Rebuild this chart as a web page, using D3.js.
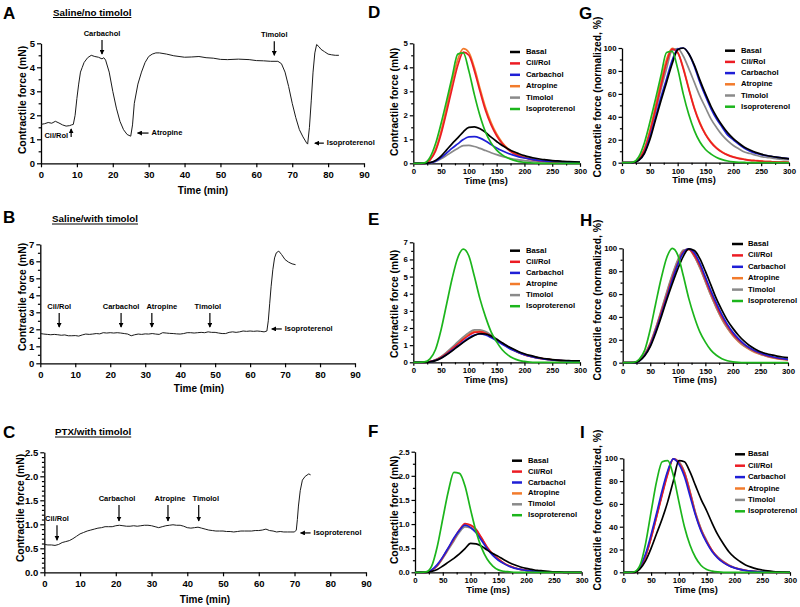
<!DOCTYPE html>
<html><head><meta charset="utf-8">
<script src="https://cdn.jsdelivr.net/npm/d3@7/dist/d3.min.js"></script>
<style>
body{margin:0;background:#fff}
svg{display:block}
text{font-family:"Liberation Sans",Arial,sans-serif;font-weight:bold;fill:#000}
</style>
</head><body><svg id="c" width="800" height="607"></svg>
<script>
// ---------------- DATA ----------------
const seriesNames = ["Basal","Cil/Rol","Carbachol","Atropine","Timolol","Isoproterenol"];
const twitchTime = [0,10,20,30,40,50,60,70,80,90,100,110,120,130,140,150,160,170,180,190,200,210,220,230,240,250,260,270,280,290,300];
const minTicks = [0,10,20,30,40,50,60,70,80,90];
const msTicks = [0,50,100,150,200,250,300];

// Panel D (mN)
const D_basal = [0,0,0,0.03,0.12,0.30,0.56,0.82,1.06,1.31,1.50,1.52,1.44,1.29,1.09,0.91,0.74,0.61,0.49,0.40,0.32,0.26,0.21,0.17,0.14,0.11,0.10,0.08,0.07,0.06,0.05];
const D_cilrol = [0,0,0,0.14,0.51,1.22,2.15,3.14,4.07,4.63,4.5,3.85,3.0,2.2,1.6,1.15,0.82,0.58,0.42,0.31,0.23,0.17,0.13,0.10,0.08,0.06,0.05,0.04,0.03,0.02,0.02];
const D_carbachol = [0,0,0,0.02,0.09,0.24,0.43,0.63,0.81,0.99,1.10,1.11,1.05,0.93,0.78,0.64,0.52,0.42,0.34,0.27,0.22,0.18,0.14,0.11,0.09,0.08,0.07,0.06,0.05,0.04,0.04];
const D_atropine = [0,0,0,0.14,0.58,1.34,2.35,3.41,4.32,4.78,4.62,3.98,3.12,2.32,1.7,1.22,0.87,0.62,0.45,0.33,0.25,0.19,0.14,0.11,0.09,0.07,0.05,0.04,0.03,0.03,0.02];
const D_timolol = [0,0,0,0.02,0.08,0.19,0.33,0.48,0.62,0.74,0.75,0.70,0.62,0.53,0.44,0.36,0.29,0.23,0.18,0.145,0.115,0.09,0.07,0.06,0.05,0.04,0.035,0.03,0.025,0.02,0.02];
const D_iso = [0,0,0.02,0.24,0.81,1.66,2.61,3.61,4.55,4.6,3.85,2.85,1.98,1.3,0.85,0.55,0.35,0.22,0.13,0.07,0.04,0.02,0.01,0,0,0,0,0,0,0,0];

// Panel E (mN)
const E_basal = [0,0,0,0.03,0.10,0.24,0.44,0.67,0.92,1.16,1.38,1.56,1.67,1.65,1.53,1.34,1.14,0.94,0.77,0.62,0.50,0.40,0.32,0.25,0.20,0.16,0.13,0.11,0.10,0.08,0.08];
const E_cilrol = [0,0,0,0.04,0.13,0.29,0.52,0.79,1.06,1.33,1.57,1.75,1.78,1.69,1.53,1.31,1.10,0.90,0.72,0.58,0.45,0.36,0.29,0.23,0.18,0.14,0.11,0.09,0.07,0.06,0.05];
const E_carbachol = [0,0,0,0.02,0.11,0.25,0.46,0.70,0.95,1.20,1.43,1.59,1.65,1.59,1.44,1.25,1.05,0.86,0.70,0.56,0.44,0.35,0.27,0.22,0.17,0.14,0.11,0.09,0.07,0.06,0.05];
const E_atropine = [0,0,0,0.04,0.14,0.31,0.56,0.83,1.13,1.41,1.65,1.81,1.83,1.72,1.54,1.31,1.09,0.89,0.70,0.56,0.43,0.34,0.27,0.21,0.17,0.13,0.11,0.08,0.07,0.05,0.04];
const E_timolol = [0,0,0,0.04,0.14,0.33,0.59,0.88,1.19,1.48,1.73,1.89,1.90,1.79,1.59,1.36,1.13,0.92,0.74,0.59,0.46,0.36,0.29,0.23,0.18,0.14,0.12,0.09,0.07,0.06,0.05];
const E_iso = [0,0,0.02,0.2,0.75,1.9,3.4,4.9,6.1,6.6,6.2,5.0,3.7,2.65,1.78,1.19,0.73,0.43,0.23,0.11,0.05,0.01,0,0,0,0,0,0,0,0,0];

// Panel F (mN)
const F_basal = [0,0,0,0.02,0.06,0.13,0.21,0.29,0.38,0.49,0.60,0.59,0.54,0.46,0.39,0.33,0.26,0.20,0.15,0.11,0.08,0.06,0.04,0.03,0.02,0.01,0.01,0,0,0,0];
const F_cilrol = [0,0,0,0.04,0.14,0.31,0.50,0.69,0.88,1.01,0.98,0.89,0.71,0.52,0.38,0.28,0.19,0.13,0.09,0.06,0.04,0.03,0.02,0.01,0.01,0,0,0,0,0,0];
const F_carbachol = [0,0,0,0.05,0.16,0.32,0.51,0.71,0.87,0.98,0.93,0.82,0.66,0.49,0.35,0.25,0.18,0.12,0.08,0.06,0.04,0.03,0.02,0.01,0.01,0,0,0,0,0,0];
const F_atropine = [0,0,0,0.04,0.14,0.30,0.49,0.68,0.87,0.99,0.97,0.87,0.70,0.51,0.37,0.27,0.19,0.13,0.09,0.06,0.04,0.03,0.02,0.01,0.01,0,0,0,0,0,0];
const F_timolol = [0,0,0,0.04,0.13,0.29,0.47,0.65,0.83,0.94,0.92,0.83,0.67,0.49,0.36,0.26,0.18,0.13,0.09,0.06,0.04,0.03,0.02,0.01,0.01,0,0,0,0,0,0];
const F_iso = [0,0,0.01,0.13,0.53,1.11,1.68,2.07,2.05,1.79,1.30,0.84,0.50,0.27,0.13,0.05,0.02,0.01,0,0,0,0,0,0,0,0,0,0,0,0,0];

// Panel G (normalized %)
const G_basal = [0,0,0,2,8,20,37,54,70,86,98.5,100,95,85,72,60,49,40,32.5,26,21,17,13.5,11,9,7.5,6.3,5.4,4.6,4,3.4];
const G_cilrol = [0,0,0,3,11,26,46,67,87,99,96,82,64,47,34,24.5,17.5,12.4,9,6.6,4.9,3.6,2.8,2.1,1.7,1.3,1,0.8,0.6,0.5,0.4];
const G_carbachol = [0,0,0,2,8,22,39,57,73,89,99,100,95,84,70,58,47,38,31,24,20,16,12.5,10,8.3,7,6.2,5.4,4.6,4,3.5];
const G_atropine = [0,0,0,3,12,28,49,71,90,99.6,96,83,65,48,35,25,18,13,9.4,6.9,5.2,4,2.9,2.3,1.9,1.5,1,0.8,0.6,0.6,0.4];
const G_timolol = [0,0,0,2.6,10.6,25,44,64,82,98,99.5,93,82,70,58,48,38,30.5,24,19,15,12,9.3,8,6.6,5.3,4.6,4,3.3,2.6,2.6];
const G_iso = [0,0,0.5,5,17,35,55,76,96,97,82,60,42,28,18,11.5,7.5,4.6,2.7,1.5,0.8,0.4,0.2,0,0,0,0,0,0,0,0];

// Panel H (normalized %)
const H_basal = [0,0,0,1.5,6,14,26,40,55,69,82,93,99.5,98,91,80,68,56,46,37,30,24,19,15,12,9.5,8,6.8,5.8,5,4.5];
const H_cilrol = [0,0,0,2,7,16,29,44,59,74,87,97,99,94,85,73,61,50,40,32,25,20,16,12.5,10,8,6.3,5,4,3.3,2.7];
const H_carbachol = [0,0,0,1.5,6.5,15,28,42,57,72,86,96,99.5,96,87,75,63,52,42,33.5,26.5,21,16.5,13,10.5,8.5,6.8,5.4,4.3,3.5,2.9];
const H_atropine = [0,0,0,2,7.5,17,30,45,61,76,89,98,99,93,83,71,59,48,38,30,23.5,18.5,14.5,11.5,9,7.2,5.7,4.5,3.6,2.9,2.4];
const H_timolol = [0,0,0,2,7.5,17,30.5,46,62,77,90,98.5,99,93,83,71,59,48,38.5,30.5,24,19,15,12,9.5,7.5,6,4.8,3.8,3.1,2.5];
const H_iso = [0,0,0.3,3,11,29,52,74,92,100,94,76,56,40,27,18,11,6.5,3.5,1.7,0.7,0.2,0,0,0,0,0,0,0,0,0];

// Panel I (normalized %)
const I_basal = [0,0,0,3,10,21,34,47,62,80,98,97,88,76,64,54,43,33,25,18,13,9.5,6.5,4.5,3,2,1.2,0.7,0.4,0.2,0];
const I_cilrol = [0,0,0,4,14,30,49,68,86,99.5,96,87,70,51,37,27,19,13,9,6,4,2.6,1.6,1,0.6,0.3,0.1,0,0,0,0];
const I_carbachol = [0,0,0,5,16,33,52,72,89,99.5,95,84,67,50,36,26,18,12.5,8.5,5.8,3.9,2.6,1.6,1,0.6,0.3,0.1,0,0,0,0];
const I_atropine = [0,0,0,4,14,30,49,69,87,99.5,97,88,71,52,38,27,19,13,9,6,4,2.7,1.7,1,0.6,0.3,0.1,0,0,0,0];
const I_timolol = [0,0,0,4,14,31,50,69,88,99.5,97,88,71,52,38,28,19,13.5,9.5,6.4,4.2,2.8,1.8,1.1,0.6,0.3,0.1,0,0,0,0];
const I_iso = [0,0,0.5,6,25,53,80,97,98,85,62,40,24,13,6,2.5,1,0.3,0,0,0,0,0,0,0,0,0,0,0,0,0];

// Trace A: [time (min), force (mN)]
const traceA = [[0,1.62],[1,1.65],[2,1.7],[3,1.67],[4,1.75],[5,1.68],[6,1.6],[7,1.55],[8,1.57],[8.5,1.6],[9,1.62],[9.5,2.0],[10,2.7],[10.5,3.3],[11,3.8],[11.5,4.0],[12,4.2],[13,4.4],[14,4.5],[15,4.45],[16,4.42],[17,4.35],[17.5,4.4],[18,4.3],[19,3.8],[20,3.0],[21,2.3],[22,1.75],[23,1.4],[24,1.2],[25,1.13],[25.5,1.6],[26,2.5],[27,3.3],[28,3.8],[29,4.2],[30,4.45],[31,4.55],[32,4.6],[33,4.6],[35,4.55],[37,4.48],[40,4.42],[42,4.43],[44,4.45],[46,4.4],[48,4.38],[50,4.33],[52,4.32],[55,4.34],[58,4.32],[60,4.28],[62,4.27],[64,4.25],[66,4.25],[67,4.15],[68,3.8],[69,3.2],[70,2.5],[71,1.9],[72,1.4],[73,1.1],[74,0.85],[74.3,0.8],[74.8,1.5],[75.3,2.6],[75.8,3.8],[76.3,4.6],[76.8,4.95],[77.5,4.85],[78,4.75],[79,4.65],[80,4.55],[81,4.52],[82,4.5],[83,4.5]];

const traceB = [[0,1.75],[1,1.72],[2,1.7],[3,1.68],[4,1.7],[5,1.68],[6,1.65],[7,1.67],[8,1.62],[9,1.62],[10,1.63],[11,1.6],[12,1.67],[13,1.72],[14,1.7],[15,1.72],[16,1.75],[17,1.73],[18,1.8],[19,1.78],[20,1.8],[21,1.78],[22,1.8],[23,1.78],[24,1.75],[25,1.72],[26,1.62],[27,1.68],[28,1.72],[29,1.7],[30,1.73],[31,1.72],[32,1.75],[33,1.72],[34,1.7],[35,1.8],[36,1.78],[37,1.76],[38,1.75],[39,1.73],[40,1.72],[41,1.75],[42,1.8],[43,1.8],[44,1.78],[45,1.8],[46,1.82],[47,1.8],[48,1.85],[49,1.82],[50,1.82],[51,1.78],[52,1.75],[53,1.75],[54,1.82],[55,1.85],[56,1.82],[57,1.85],[58,1.9],[59,1.88],[60,1.9],[61,1.88],[62,1.9],[63,1.88],[64,1.85],[64.8,1.9],[65.2,2.5],[65.6,3.5],[66,4.5],[66.5,5.5],[67,6.2],[67.5,6.5],[68.2,6.6],[69,6.4],[70,6.1],[71,5.95],[72,5.85],[73,5.8]];

const traceC = [[0,0.58],[1,0.57],[2,0.57],[3,0.56],[4,0.58],[5,0.62],[6,0.64],[7,0.66],[8,0.7],[9,0.75],[10,0.8],[11,0.83],[12,0.86],[13,0.88],[14,0.9],[15,0.92],[16,0.93],[17,0.95],[18,0.95],[19,0.95],[20,0.97],[21,0.98],[22,0.97],[23,0.96],[24,0.96],[25,0.97],[26,0.96],[27,0.97],[28,0.98],[29,0.98],[30,0.97],[31,0.95],[32,0.93],[33,0.95],[34,0.97],[35,0.98],[36,0.99],[37,0.98],[38,0.98],[39,0.96],[40,0.93],[41,0.92],[42,0.93],[43,0.94],[44,0.92],[45,0.9],[46,0.88],[47,0.87],[48,0.86],[49,0.86],[50,0.86],[51,0.85],[52,0.85],[53,0.84],[54,0.85],[55,0.86],[56,0.86],[57,0.86],[58,0.86],[59,0.87],[60,0.87],[61,0.88],[62,0.9],[63,0.87],[64,0.86],[65,0.84],[66,0.85],[67,0.84],[68,0.84],[69,0.84],[70,0.84],[70.5,0.88],[70.8,1.1],[71.1,1.38],[71.6,1.7],[72.2,1.92],[73,2.0],[74,2.05],[74.5,2.03]];

// ---------------- DRAW ----------------
const svg = d3.select("#c");
const colors = {"Basal":"#000000","Cil/Rol":"#ec1c24","Carbachol":"#1f1fd6","Atropine":"#f27b2c","Timolol":"#8a8a8a","Isoproterenol":"#1cb51c"};
const drawOrder = [3,4,1,2,0,5];

svg.append("defs").append("marker").attr("id","ah").attr("viewBox","0 0 8 8")
  .attr("refX",7).attr("refY",4).attr("markerWidth",5).attr("markerHeight",5)
  .attr("markerUnits","userSpaceOnUse").attr("orient","auto")
  .append("path").attr("d","M0,0 L8,4 L0,8 z").attr("fill","#000");

function styleAxis(g){
  g.selectAll("path.domain").attr("stroke","#000").attr("stroke-width",1.3);
  g.selectAll(".tick line").attr("stroke","#000").attr("stroke-width",1.2);
  g.selectAll(".tick text").attr("font-family","Liberation Sans, Arial, sans-serif").attr("font-weight","bold").attr("fill","#000");
}

function drawAxes(x, y, cfg){
  const gx = svg.append("g").attr("transform",`translate(0,${cfg.yb})`)
    .call(d3.axisBottom(x).tickValues(cfg.xticks).tickSize(cfg.tick).tickSizeOuter(0).tickPadding(cfg.xpad).tickFormat(d3.format("d")));
  gx.attr("font-size",cfg.tfs);
  styleAxis(gx);
  if (cfg.yminor) {
    const gm = svg.append("g").attr("transform",`translate(${cfg.x0},0)`)
      .call(d3.axisLeft(y).tickValues(cfg.yminor).tickSize(cfg.tick*0.6).tickSizeOuter(0).tickFormat(""));
    gm.select("path.domain").remove();
    styleAxis(gm);
  }
  if (cfg.xminor) {
    const gm = svg.append("g").attr("transform",`translate(0,${cfg.yb})`)
      .call(d3.axisBottom(x).tickValues(cfg.xminor).tickSize(cfg.tick*0.6).tickSizeOuter(0).tickFormat(""));
    gm.select("path.domain").remove();
    styleAxis(gm);
  }
  const gy = svg.append("g").attr("transform",`translate(${cfg.x0},0)`)
    .call(d3.axisLeft(y).tickValues(cfg.yticks).tickSize(cfg.tick).tickSizeOuter(0).tickPadding(2).tickFormat(d3.format(cfg.yfmt)));
  gy.attr("font-size",cfg.tfs);
  styleAxis(gy);
  svg.append("text").attr("x",cfg.xlab[0]).attr("y",cfg.xlab[1]).attr("text-anchor","middle")
    .attr("dominant-baseline","middle").attr("font-size",cfg.xlfs).text(cfg.xtitle);
  svg.append("text").attr("transform",`translate(${cfg.ylab[0]},${cfg.ylab[1]}) rotate(-90)`)
    .attr("text-anchor","middle").attr("dominant-baseline","middle").attr("font-size",cfg.lfs).text(cfg.ytitle);
}

function letter(t,x,y){ svg.append("text").attr("x",x).attr("y",y).attr("font-size",17).text(t); }
function title(t,x,y){
  const tx = svg.append("text").attr("x",x).attr("y",y).attr("font-size",9.8).text(t);
  const w = tx.node().getComputedTextLength();
  svg.append("line").attr("x1",x).attr("x2",x+w).attr("y1",y+2).attr("y2",y+2).attr("stroke","#000").attr("stroke-width",1);
}

function tracePanel(cfg){
  const x = d3.scaleLinear().domain([0,90]).range([cfg.x0,cfg.x1]);
  const y = d3.scaleLinear().domain([0,cfg.ymax]).range([cfg.yb,cfg.yt]);
  drawAxes(x,y,Object.assign({xticks:minTicks,tick:4,xpad:4,tfs:9.5,lfs:10.3,xlfs:10,xtitle:"Time (min)",ytitle:"Contractile force (mN)"},cfg));
  svg.append("path").datum(cfg.data).attr("fill","none").attr("stroke","#1a1a1a").attr("stroke-width",1)
    .attr("d", d3.line().x(d=>x(d[0])).y(d=>y(d[1])));
  cfg.notes.forEach(n=>{
    const px = x(n.t), py = y(n.v);
    if (n.dir==="down"){
      svg.append("line").attr("x1",px).attr("x2",px).attr("y1",py-n.len).attr("y2",py)
        .attr("stroke","#000").attr("stroke-width",1.2).attr("marker-end","url(#ah)");
      svg.append("text").attr("x",px+(n.dx||0)).attr("y",py-n.len-4).attr("text-anchor","middle").attr("font-size",7.5).text(n.label);
    } else if (n.dir==="up"){
      svg.append("line").attr("x1",px).attr("x2",px).attr("y1",py+n.len).attr("y2",py)
        .attr("stroke","#000").attr("stroke-width",1.2).attr("marker-end","url(#ah)");
      svg.append("text").attr("x",px-3).attr("y",py+n.len+1).attr("text-anchor","end").attr("font-size",7.5).text(n.label);
    } else {
      svg.append("line").attr("x1",px+n.len).attr("x2",px).attr("y1",py).attr("y2",py)
        .attr("stroke","#000").attr("stroke-width",1.2).attr("marker-end","url(#ah)");
      svg.append("text").attr("x",px+n.len+3).attr("y",py).attr("dominant-baseline","middle").attr("font-size",7.5).text(n.label);
    }
  });
}

function twitchPanel(cfg){
  const x = d3.scaleLinear().domain([0,300]).range([cfg.x0,cfg.x1]);
  const y = d3.scaleLinear().domain([0,cfg.ymax]).range([cfg.yb,cfg.yt]);
  drawAxes(x,y,Object.assign({xticks:msTicks,tick:3.5,xpad:2,tfs:7.8,lfs:10.3,xlfs:9.3,xtitle:"Time (ms)"},cfg));
  const line = d3.line().x((d,i)=>x(twitchTime[i])).y(d=>y(d)).curve(d3.curveMonotoneX);
  drawOrder.forEach(i=>{
    svg.append("path").datum(cfg.series[i]).attr("fill","none").attr("stroke",colors[seriesNames[i]])
      .attr("stroke-width",1.7).attr("d",line);
  });
  seriesNames.forEach((n,i)=>{
    const yy = cfg.leg.y + i*cfg.leg.dy;
    svg.append("line").attr("x1",cfg.leg.x1).attr("x2",cfg.leg.x2).attr("y1",yy).attr("y2",yy)
      .attr("stroke",colors[n]).attr("stroke-width",2.5);
    svg.append("text").attr("x",cfg.leg.tx).attr("y",yy).attr("dominant-baseline","middle").attr("font-size",7.7).text(n);
  });
}

// Panel A
letter("A",3,18.5); title("Saline/no timolol",53,15.5);
tracePanel({x0:41,x1:364,yb:163.3,yt:43.3,ymax:5,yticks:[0,1,2,3,4,5],yminor:[0.5,1.5,2.5,3.5,4.5],yfmt:"d",
  xlab:[203,191],ylab:[23,100],data:traceA,
  notes:[{label:"Carbachol",t:17,v:4.55,dir:"down",len:14},
         {label:"Timolol",t:65,v:4.5,dir:"down",len:14},
         {label:"Cil/Rol",t:8.4,v:1.43,dir:"up",len:8},
         {label:"Atropine",t:26.9,v:1.26,dir:"left",len:11},
         {label:"Isoproterenol",t:76.3,v:0.84,dir:"left",len:9}]});

// Panel B
letter("B",3,223); title("Saline/with timolol",52,222);
tracePanel({x0:40.3,x1:355,yb:363.3,yt:244.3,ymax:7,yticks:[0,1,2,3,4,5,6,7],yminor:[0.5,1.5,2.5,3.5,4.5,5.5,6.5],yfmt:"d",
  xlab:[199,389],ylab:[23,297],data:traceB,
  notes:[{label:"Cil/Rol",t:5.4,v:2.13,dir:"down",len:14},
         {label:"Carbachol",t:23.1,v:2.13,dir:"down",len:14},
         {label:"Atropine",t:31.9,v:2.13,dir:"down",len:14,dx:10},
         {label:"Timolol",t:48.5,v:2.13,dir:"down",len:14,dx:-2},
         {label:"Isoproterenol",t:66.2,v:2.02,dir:"left",len:10}]});

// Panel C
letter("C",3,438); title("PTX/with timolol",55,435);
tracePanel({x0:44.3,x1:366,yb:572.3,yt:452.3,ymax:2.5,yticks:[0,0.5,1,1.5,2,2.5],
  yminor:[0.1,0.2,0.3,0.4,0.6,0.7,0.8,0.9,1.1,1.2,1.3,1.4,1.6,1.7,1.8,1.9,2.1,2.2,2.3,2.4],yfmt:".1f",
  xlab:[205,600],ylab:[21,508],data:traceC,
  notes:[{label:"Cil/Rol",t:3.55,v:0.67,dir:"down",len:15},
         {label:"Carbachol",t:20.9,v:1.07,dir:"down",len:16,dx:-2},
         {label:"Atropine",t:34.6,v:1.07,dir:"down",len:16,dx:2},
         {label:"Timolol",t:43.2,v:1.07,dir:"down",len:16,dx:7},
         {label:"Isoproterenol",t:71.7,v:0.82,dir:"left",len:10}]});

// Panels D, E, F
letter("D",368,18);
twitchPanel({x0:413.3,x1:580,yb:163.3,yt:43.3,ymax:5,yticks:[0,1,2,3,4,5],yminor:[0.5,1.5,2.5,3.5,4.5],yfmt:"d",
  xminor:[25,75,125,175,225,275],xlab:[486,182],ylab:[395,102],ytitle:"Contractile force (mN)",
  series:[D_basal,D_cilrol,D_carbachol,D_atropine,D_timolol,D_iso],
  leg:{x1:510,x2:520,tx:526,y:52,dy:11.4}});
letter("E",368,225);
twitchPanel({x0:413.3,x1:580,yb:362.3,yt:242.3,ymax:7,yticks:[0,1,2,3,4,5,6,7],yminor:[0.5,1.5,2.5,3.5,4.5,5.5,6.5],yfmt:"d",
  xminor:[25,75,125,175,225,275],xlab:[486,381],ylab:[395,304],ytitle:"Contractile force (mN)",
  series:[E_basal,E_cilrol,E_carbachol,E_atropine,E_timolol,E_iso],
  leg:{x1:510,x2:520,tx:526,y:250.7,dy:11.1}});
letter("F",368,437);
twitchPanel({x0:415,x1:581.7,yb:572.3,yt:451.7,ymax:2.5,yticks:[0,0.5,1,1.5,2,2.5],yminor:[0.25,0.75,1.25,1.75,2.25],yfmt:".1f",
  xminor:[25,75,125,175,225,275],xlab:[488,591],ylab:[395,510],ytitle:"Contractile force (mN)",
  series:[F_basal,F_cilrol,F_carbachol,F_atropine,F_timolol,F_iso],
  leg:{x1:512,x2:522,tx:528,y:460.7,dy:10.9}});

// Panels G, H, I
letter("G",579,19);
twitchPanel({x0:622,x1:789,yb:162.7,yt:48,ymax:100,yticks:[0,20,40,60,80,100],yminor:[10,30,50,70,90],yfmt:"d",
  xminor:[25,75,125,175,225,275],xlab:[694,181],ylab:[598,97],ytitle:"Contractile force (normalized, %)",
  series:[G_basal,G_cilrol,G_carbachol,G_atropine,G_timolol,G_iso],
  leg:{x1:725,x2:735,tx:741,y:50.7,dy:11.2}});
letter("H",580,226);
twitchPanel({x0:622.7,x1:788,yb:362.7,yt:248.3,ymax:100,yticks:[0,20,40,60,80,100],yminor:[10,30,50,70,90],yfmt:"d",
  xminor:[25,75,125,175,225,275],xlab:[695,381],ylab:[598,300],ytitle:"Contractile force (normalized, %)",
  series:[H_basal,H_cilrol,H_carbachol,H_atropine,H_timolol,H_iso],
  leg:{x1:732,x2:743,tx:748,y:244,dy:11.4}});
letter("I",580,438);
twitchPanel({x0:623.3,x1:790,yb:572.3,yt:458.3,ymax:100,yticks:[0,20,40,60,80,100],yminor:[10,30,50,70,90],yfmt:"d",
  xminor:[25,75,125,175,225,275],xlab:[696,591],ylab:[598,510],ytitle:"Contractile force (normalized, %)",
  series:[I_basal,I_cilrol,I_carbachol,I_atropine,I_timolol,I_iso],
  leg:{x1:735,x2:745,tx:748,y:454.3,dy:11.4}});
</script>
</body></html>
